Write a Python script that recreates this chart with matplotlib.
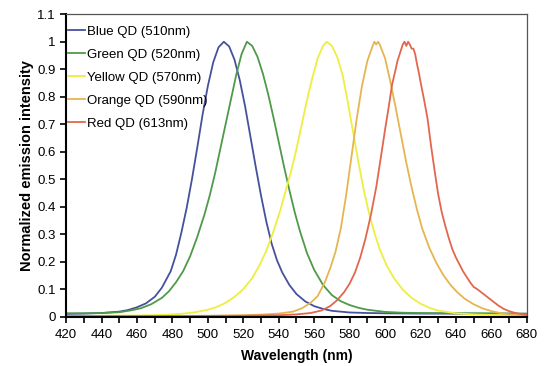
import matplotlib
matplotlib.use('Agg')
import matplotlib.pyplot as plt
from matplotlib.ticker import MultipleLocator

plt.rcParams['font.family'] = ['Liberation Sans', 'DejaVu Sans']

# values (wavelength nm, normalized intensity)
blue_nm = [420, 430, 440, 450, 455, 460, 465, 470, 474, 479, 482, 485, 488, 491, 494, 497, 500, 503, 506, 509,
           512, 515, 518, 521, 524, 527, 530, 533, 536, 539, 542, 546, 550, 555, 560, 565, 570, 580, 590, 600,
           620, 640, 660, 680]
blue_val = [0.010, 0.011, 0.013, 0.018, 0.024, 0.034, 0.048, 0.072, 0.105, 0.165, 0.225, 0.305, 0.395, 0.50,
            0.615, 0.735, 0.84, 0.925, 0.98, 1.0,
            0.983, 0.935, 0.86, 0.765, 0.655, 0.545, 0.44, 0.345, 0.265, 0.205, 0.16, 0.115, 0.082, 0.055,
            0.038, 0.028, 0.021, 0.015, 0.013, 0.012, 0.011, 0.011, 0.010, 0.010]

green_nm = [420, 430, 440, 450, 456, 462, 468, 474, 478, 482, 486, 490, 494, 498, 501, 504, 507, 510, 513, 516,
            519, 522, 525, 528, 531, 534, 537, 540, 543, 546, 549, 552, 556, 560, 565, 570, 575, 580, 585, 590,
            600, 610, 620, 640, 660, 680]
green_val = [0.012, 0.012, 0.013, 0.016, 0.022, 0.030, 0.045, 0.068, 0.092, 0.125, 0.165, 0.22, 0.29, 0.37,
             0.44, 0.52, 0.61, 0.70, 0.79, 0.88, 0.955, 1.0,
             0.985, 0.945, 0.885, 0.81, 0.725, 0.635, 0.545, 0.46, 0.38, 0.31, 0.23, 0.17, 0.115, 0.078,
             0.056, 0.042, 0.032, 0.025, 0.017, 0.014, 0.013, 0.012, 0.012, 0.011]

yellow_nm = [420, 440, 460, 475, 485, 492, 500, 505, 510, 515, 520, 525, 529, 533, 537, 541, 544, 547, 550, 553,
             556, 559, 562, 565, 567, 570, 573, 576, 579, 582, 585, 588, 591, 594, 597, 601, 605, 610, 615, 620,
             625, 630, 640, 650, 660, 680]
yellow_val = [0.002, 0.003, 0.004, 0.006, 0.010, 0.015, 0.025, 0.035, 0.05, 0.072, 0.10, 0.14, 0.185, 0.24,
              0.31, 0.39, 0.46, 0.53, 0.61, 0.70, 0.79, 0.87, 0.94, 0.985, 1.0,
              0.985, 0.945, 0.88, 0.78, 0.67, 0.56, 0.46, 0.375, 0.305, 0.245, 0.185, 0.14, 0.098, 0.068,
              0.047, 0.032, 0.022, 0.012, 0.008, 0.006, 0.005]

orange_nm = [420, 460, 500, 520, 530, 540, 548, 553, 558, 562, 566, 569, 572, 575, 578, 581, 584, 587, 590, 593,
             594, 595, 596, 597, 600, 603, 606, 609, 612, 615, 618, 621, 625, 629, 633, 637, 641, 645, 650, 655,
             660, 665, 670, 675, 680]
orange_val = [0.002, 0.002, 0.003, 0.005, 0.007, 0.011, 0.018, 0.030, 0.05, 0.075, 0.125, 0.175, 0.235, 0.32,
              0.44, 0.58, 0.72, 0.84, 0.93, 0.985, 1.0, 0.99, 1.0, 0.99,
              0.94, 0.855, 0.76, 0.66, 0.56, 0.47, 0.39, 0.32, 0.25, 0.195, 0.15, 0.115, 0.087, 0.065, 0.045,
              0.03, 0.02, 0.013, 0.008, 0.006, 0.005]

red_nm = [420, 480, 520, 540, 550, 558, 564, 569, 573, 577, 580, 583, 586, 589, 592, 595, 598, 600, 602, 604,
          606, 607, 608, 609, 610, 611, 612, 613, 614, 615, 616, 617, 618, 619, 620, 622, 624, 626, 628, 630,
          632, 634, 636, 638, 640, 642, 644, 646, 648, 650, 652, 655, 658, 661, 664, 667, 670, 673, 676, 680]
red_val = [0.001, 0.002, 0.003, 0.005, 0.008, 0.013, 0.022, 0.038, 0.06, 0.09, 0.12, 0.16, 0.215, 0.285, 0.37,
           0.47, 0.595, 0.68, 0.76, 0.845, 0.90, 0.93, 0.95, 0.97, 0.99, 1.0, 0.985, 1.0, 0.99, 0.975, 0.975,
           0.955, 0.92, 0.89, 0.855, 0.79, 0.72, 0.62, 0.53, 0.445, 0.38, 0.33, 0.285, 0.245, 0.215, 0.19, 0.165,
           0.145, 0.125, 0.108, 0.10, 0.085, 0.07, 0.055, 0.04, 0.028, 0.02, 0.014, 0.01, 0.006]

series = [
    ('Blue QD (510nm)', blue_nm, blue_val, '#47509c'),
    ('Green QD (520nm)', green_nm, green_val, '#4f9a48'),
    ('Yellow QD (570nm)', yellow_nm, yellow_val, '#eeee40'),
    ('Orange QD (590nm)', orange_nm, orange_val, '#e6b552'),
    ('Red QD (613nm)', red_nm, red_val, '#e2674e'),
]

fig = plt.figure(figsize=(5.47, 3.66), dpi=100)
ax = fig.add_axes([0.121, 0.135, 0.842, 0.826])

for label, xs, ys, col in series:
    ax.plot(xs, ys, color=col, linewidth=1.3, label=label)

ax.set_xlim(420, 680)
ax.set_ylim(0, 1.1)
ax.xaxis.set_major_locator(MultipleLocator(20))
ax.xaxis.set_minor_locator(MultipleLocator(10))
ax.set_yticks([0, 0.1, 0.2, 0.3, 0.4, 0.5, 0.6, 0.7, 0.8, 0.9, 1.0, 1.1])
ax.set_yticklabels(['0', '0.1', '0.2', '0.3', '0.4', '0.5', '0.6', '0.7', '0.8', '0.9', '1', '1.1'])
ax.tick_params(which='both', direction='out', length=4, width=1.2, labelsize=9.5, colors='black')
ax.tick_params(axis='x', pad=5)

for side in ['left', 'bottom']:
    ax.spines[side].set_linewidth(1.5)
    ax.spines[side].set_color('black')
for side in ['top', 'right']:
    ax.spines[side].set_linewidth(0.9)
    ax.spines[side].set_color('#555555')

ax.set_xlabel('Wavelength (nm)', fontsize=10, fontweight='bold', labelpad=6)
ax.set_ylabel('Normalized emission intensity', fontsize=10.5, fontweight='bold', labelpad=2)

ax.legend(loc='upper left', bbox_to_anchor=(0.0, 0.968), borderaxespad=0, borderpad=0.1,
          frameon=False, fontsize=9.5, handlelength=1.3, handletextpad=0.15, labelspacing=0.82)

fig.savefig('out.png', dpi=100)
